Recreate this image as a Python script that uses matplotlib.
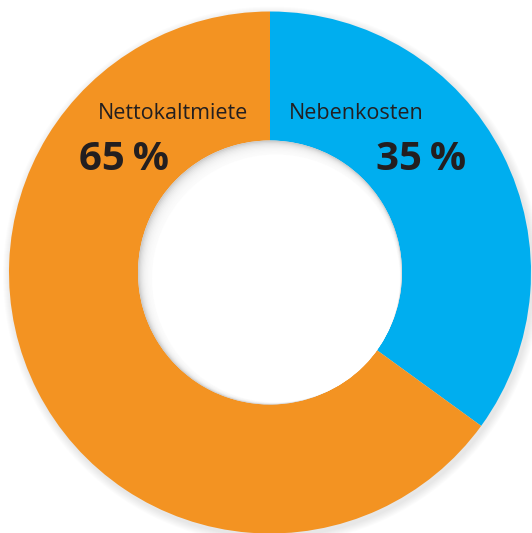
import matplotlib.pyplot as plt
from matplotlib.patches import Circle

# data
labels = ["Nebenkosten", "Nettokaltmiete"]
shares = [35, 65]
colors = ["#00AEEF", "#F39322"]

W, H = 532, 533
cx, cy = 270, H - 272.5
r_out, r_in = 261, 132

fig = plt.figure(figsize=(W / 100, H / 100), dpi=100)
ax = fig.add_axes([0, 0, 1, 1])
ax.set_xlim(0, W)
ax.set_ylim(0, H)
ax.axis("off")

# soft outer shadow
for i in range(8):
    ax.add_patch(Circle((cx + 2, cy - 3), r_out + 8 - i, color="black", alpha=0.012, lw=0, zorder=0))

ax.pie(shares, colors=colors, startangle=90, counterclock=False,
       radius=r_out, center=(cx, cy),
       wedgeprops=dict(width=r_out - r_in, linewidth=0))

# inner hole with a soft shadow from the top-left
ax.add_patch(Circle((cx, cy), r_in, color="#bdbdbd", lw=0, zorder=3))
for i in range(12):
    ax.add_patch(Circle((cx + 0.5 * i, cy - 0.5 * i), r_in - 0.7 * i, color="white",
                        alpha=0.25, lw=0, zorder=4))
ax.add_patch(Circle((cx + 6, cy - 6), r_in - 8, color="white", lw=0, zorder=5))

ax.set_xlim(0, W)
ax.set_ylim(0, H)
ax.set_aspect("equal")

txt = "#231f20"
font = "Open Sans"
ax.text(248, H - 119, labels[1], ha="right", va="baseline", fontsize=15.5,
        family=font, color=txt, zorder=6)
ax.text(289, H - 119, labels[0], ha="left", va="baseline", fontsize=15.5,
        family=font, color=txt, zorder=6)
ax.text(79, H - 170, f"{shares[1]}\u2009%", ha="left", va="baseline", fontsize=29,
        family=font, weight="bold", color=txt, zorder=6)
ax.text(466, H - 170, f"{shares[0]}\u2009%", ha="right", va="baseline", fontsize=29,
        family=font, weight="bold", color=txt, zorder=6)

fig.savefig("out.png", dpi=100)
